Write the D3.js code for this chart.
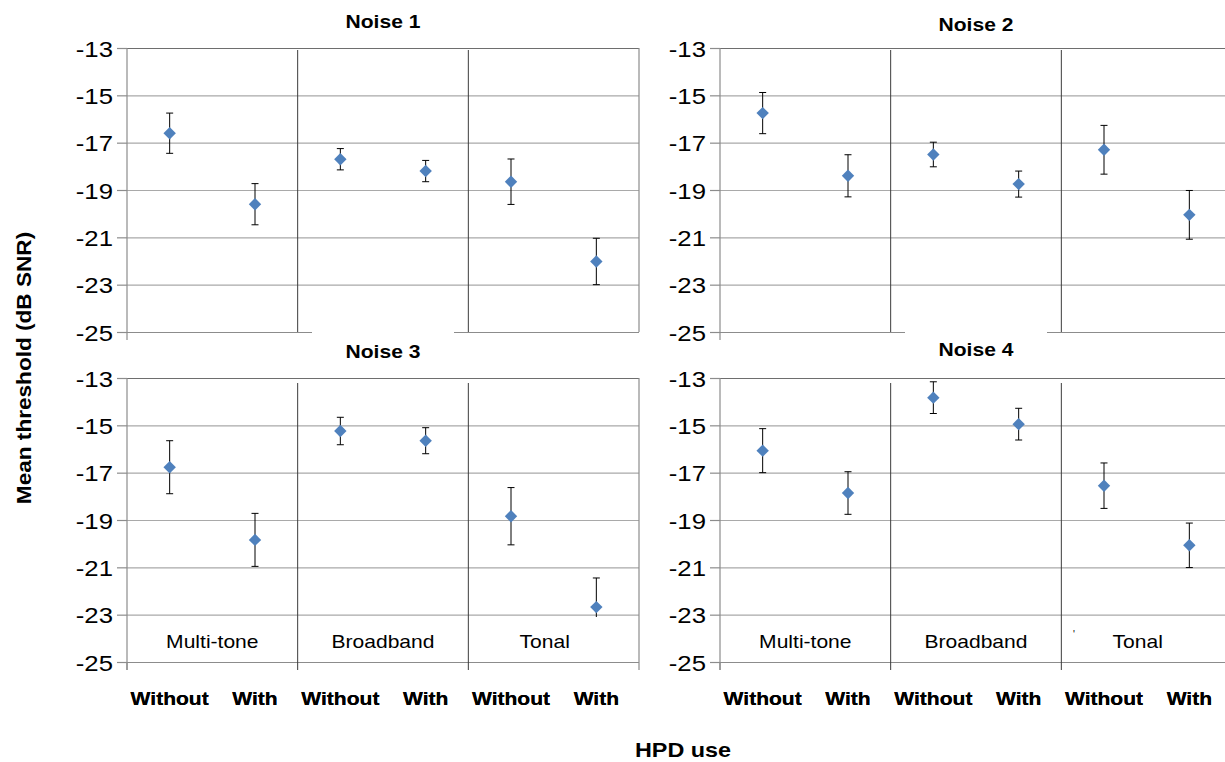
<!DOCTYPE html>
<html>
<head>
<meta charset="utf-8">
<script src="https://cdn.jsdelivr.net/npm/d3@7"></script>
<style>
  body { margin: 0; background: #fff; }
  svg { display: block; font-family: "Liberation Sans", Arial, sans-serif; }
</style>
</head>
<body>
<svg id="chart" width="1225" height="762"></svg>
<script>
"use strict";

// data
var categories = ["Multi-tone", "Broadband", "Tonal"];
var hpdUse = ["Without", "With"];
var yTicks = [-13, -15, -17, -19, -21, -23, -25];
var noiseTitles = ["Noise 1", "Noise 2", "Noise 3", "Noise 4"];

var noise1Mean = [-16.6, -19.6, -17.7, -18.2, -18.65, -22.02];
var noise1Err  = [0.85, 0.87, 0.45, 0.45, 0.96, 0.98];
var noise2Mean = [-15.75, -18.4, -17.5, -18.75, -17.3, -20.05];
var noise2Err  = [0.87, 0.89, 0.52, 0.55, 1.03, 1.03];
var noise3Mean = [-16.77, -19.84, -15.24, -15.65, -18.84, -22.68];
var noise3Err  = [1.12, 1.12, 0.58, 0.55, 1.21, 1.23];
var noise4Mean = [-16.07, -17.86, -13.83, -14.95, -17.55, -20.07];
var noise4Err  = [0.93, 0.9, 0.67, 0.67, 0.96, 0.94];

var means = [noise1Mean, noise2Mean, noise3Mean, noise4Mean];
var errs = [noise1Err, noise2Err, noise3Err, noise4Err];

(function(){
    var svg = d3.select("#chart"),
        W = 512, H = 284,
        sx = 1.17,          // the original text is drawn a bit wide
        blue = "#4f81bd";

    // panel placement
    var panels = [
        {left: 127, top: 48, titleY: 28, bottomRow: false},
        {left: 720, top: 48, titleY: 31, bottomRow: false},
        {left: 127, top: 378, titleY: 358, bottomRow: true},
        {left: 720, top: 378, titleY: 356, bottomRow: true}
    ];
    var labelShift = [0, 0, -9];

    function txt(parent, x, y, s, size, weight, anchor, extra){
        return parent.append("text")
            .attr("transform", "translate(" + x + "," + y + ")" + (extra || "") + " scale(" + sx + ",1)")
            .attr("text-anchor", anchor || "middle")
            .attr("font-size", size)
            .attr("font-weight", weight || "normal")
            .attr("fill", "#000")
            .text(s);
    }

    var conds = d3.range(6);
    var x = d3.scaleBand().domain(conds).range([0, W]);
    var y = d3.scaleLinear().domain([-25, -13]).range([H, 0]);

    panels.forEach(function(p, i){
        var g = svg.append("g").attr("transform", "translate(" + p.left + "," + p.top + ")");

        // gridlines
        g.append("g")
            .call(d3.axisLeft(y).tickValues(yTicks).tickSize(-W).tickFormat(""))
            .call(function(a){
                a.select(".domain").remove();
                a.selectAll(".tick line")
                    .attr("stroke", function(d){ return d === -13 ? "#6e6e6e" : (d === -25 ? "#8c8c8c" : "#a9a9a9"); })
                    .attr("stroke-width", 1.2);
            });

        // right border
        g.append("line")
            .attr("x1", W).attr("x2", W).attr("y1", 0).attr("y2", H)
            .attr("stroke", "#8c8c8c").attr("stroke-width", 1.2);

        // group dividers
        g.selectAll("line.div")
            .data([2, 4])
            .enter().append("line")
            .attr("class", "div")
            .attr("x1", function(d){ return x(d); })
            .attr("x2", function(d){ return x(d); })
            .attr("y1", p.bottomRow ? 5 : 2)
            .attr("y2", p.bottomRow ? H + 8 : H)
            .attr("stroke", "#3c3c3c").attr("stroke-width", 1);

        // bottom ticks at group boundaries
        if(p.bottomRow){
            g.selectAll("line.bt")
                .data([0, 6])
                .enter().append("line")
                .attr("class", "bt")
                .attr("x1", function(d){ return d === 6 ? W : x(d); })
                .attr("x2", function(d){ return d === 6 ? W : x(d); })
                .attr("y1", H).attr("y2", H + 8)
                .attr("stroke", "#8c8c8c").attr("stroke-width", 1.2);
        }

        // y axis
        g.append("g")
            .call(d3.axisLeft(y).tickValues(yTicks).tickSize(10).tickFormat(function(d){ return String(d); }))
            .call(function(a){
                a.select(".domain").attr("stroke", "#8c8c8c").attr("stroke-width", 1.2)
                    .attr("d", "M0,0V" + (H + 8));
                a.selectAll(".tick line").attr("stroke", "#8c8c8c").attr("stroke-width", 1.2);
                a.selectAll(".tick text")
                    .attr("x", null).attr("dy", null)
                    .attr("transform", "translate(-14,8) scale(" + sx + ",1)")
                    .attr("font-size", 22)
                    .attr("font-family", "Liberation Sans, Arial, sans-serif")
                    .attr("fill", "#000");
            });

        var rows = conds.map(function(c){ return {c: c, m: means[i][c], e: errs[i][c]}; });
        var cx = function(d){ return x(d.c) + x.bandwidth() / 2; };

        // error bars
        var eb = g.selectAll("g.eb").data(rows).enter().append("g").attr("class", "eb")
            .attr("stroke", "#000").attr("stroke-width", 1);
        eb.append("line")
            .attr("x1", cx).attr("x2", cx)
            .attr("y1", function(d){ return y(d.m + d.e); })
            .attr("y2", function(d){ return y(d.m - d.e); });
        eb.append("line")
            .attr("x1", function(d){ return cx(d) - 3.5; }).attr("x2", function(d){ return cx(d) + 3.5; })
            .attr("y1", function(d){ return y(d.m + d.e); }).attr("y2", function(d){ return y(d.m + d.e); });
        eb.append("line")
            .attr("x1", function(d){ return cx(d) - 3.5; }).attr("x2", function(d){ return cx(d) + 3.5; })
            .attr("y1", function(d){ return y(d.m - d.e); }).attr("y2", function(d){ return y(d.m - d.e); });

        // diamonds
        var diamond = d3.symbol().type(d3.symbolDiamond2 || d3.symbolSquare).size(98);
        g.selectAll("path.pt").data(rows).enter().append("path")
            .attr("class", "pt")
            .attr("d", diamond)
            .attr("transform", function(d){
                return "translate(" + cx(d) + "," + y(d.m) + ")" + (d3.symbolDiamond2 ? "" : " rotate(45)");
            })
            .attr("fill", blue);

        // category labels (white text boxes) on the bottom row
        if(p.bottomRow){
            categories.forEach(function(cat, k){
                var cxk = x(k * 2) + x.bandwidth() + labelShift[k];
                g.append("rect")
                    .attr("x", cxk - 58).attr("y", 239).attr("width", 116).attr("height", 42)
                    .attr("fill", "#fff");
                txt(g, cxk, 270, cat, 18);
            });
        }

        // panel title (white text box)
        var tx = p.left + W / 2;
        if(p.bottomRow){
            svg.append("rect").attr("x", tx - 71).attr("y", p.top - 46).attr("width", 142).attr("height", 36)
                .attr("fill", "#fff");
        }
        txt(svg, tx, p.titleY, noiseTitles[i], 18, "bold");

        // Without / With
        conds.forEach(function(c){
            txt(svg, p.left + x(c) + x.bandwidth() / 2, 705, hpdUse[c % 2], 18, "bold");
        });
    });

    // stray mark in the last panel
    svg.append("text").attr("x", 1073).attr("y", 638).attr("font-size", 10).attr("fill", "#000").text("'");

    // axis titles
    txt(svg, 683, 757, "HPD use", 20, "bold");
    svg.append("text")
        .attr("transform", "translate(31,368) rotate(-90) scale(1.13,1)")
        .attr("text-anchor", "middle")
        .attr("font-size", 20)
        .attr("font-weight", "bold")
        .text("Mean threshold (dB SNR)");
})();
</script>
</body>
</html>
